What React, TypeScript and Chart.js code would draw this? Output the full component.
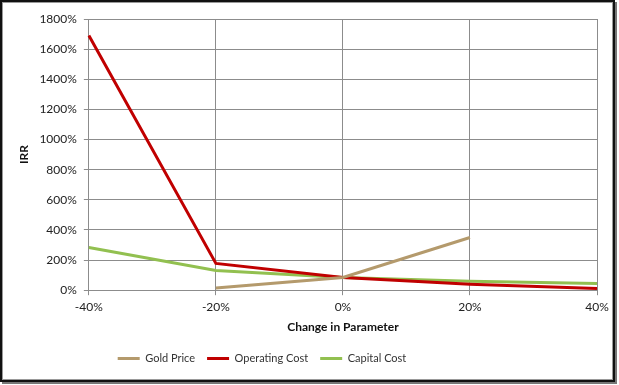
import React, { useEffect, useRef } from "react";
import { Chart, registerables } from "chart.js";

Chart.register(...registerables);

const categories = ["-40%", "-20%", "0%", "20%", "40%"];
const goldPrice = [null, 15, 84, 350, null];
const operatingCost = [1690, 178, 84, 40, 11];
const capitalCost = [283, 131, 84, 60, 44];
const yTicks = [0, 200, 400, 600, 800, 1000, 1200, 1400, 1600, 1800];

const FONT = "Lato, 'Liberation Sans', Arial, sans-serif";

const legendShift = {
  id: "legendShift",
  afterLayout(chart: any) {
    const lg = chart.legend;
    if (lg) {
      lg.left -= 45;
      lg.right -= 45;
    }
  },
};

export default function App() {
  const ref = useRef<HTMLCanvasElement | null>(null);
  useEffect(() => {
    if (!ref.current) return;
    const chart = new Chart(ref.current, {
      type: "line",
      data: {
        labels: categories,
        datasets: [
          { label: "Gold Price", data: goldPrice, borderColor: "#B49A6C", backgroundColor: "#B49A6C", borderWidth: 3, pointRadius: 0, spanGaps: false },
          { label: "Operating Cost", data: operatingCost, borderColor: "#C00000", backgroundColor: "#C00000", borderWidth: 3, pointRadius: 0 },
          { label: "Capital Cost", data: capitalCost, borderColor: "#92C050", backgroundColor: "#92C050", borderWidth: 3, pointRadius: 0 },
        ],
      },
      plugins: [legendShift],
      options: {
        animation: false,
        responsive: false,
        maintainAspectRatio: false,
        layout: { padding: { left: 14, right: 18, top: 16, bottom: 9 } },
        plugins: {
          tooltip: { enabled: false },
          legend: {
            position: "bottom",
            labels: {
              usePointStyle: true,
              pointStyle: "line",
              pointStyleWidth: 22,
              color: "#333",
              font: { family: FONT, size: 11 },
              padding: 12,
            },
          },
        },
        scales: {
          x: {
            type: "category",
            offset: false,
            grid: { color: "#8c8c8c", lineWidth: 1, tickLength: 5, drawTicks: true },
            border: { color: "#8c8c8c" },
            ticks: { color: "#222", font: { family: FONT, size: 12 }, padding: 5, maxRotation: 0 },
            title: { display: true, text: "Change in Parameter", color: "#111", font: { family: FONT, size: 12, weight: "bold" }, padding: { top: 0, bottom: 7 } },
          },
          y: {
            min: 0,
            max: 1800,
            afterBuildTicks: (scale: any) => {
              scale.ticks = yTicks.map((v) => ({ value: v }));
            },
            grid: { color: "#8c8c8c", lineWidth: 1, tickLength: 5 },
            border: { color: "#8c8c8c" },
            ticks: { color: "#222", font: { family: FONT, size: 12 }, padding: 7, callback: (v: any) => v + "%" },
            title: { display: true, text: "IRR", color: "#111", font: { family: FONT, size: 12, weight: "bold" }, padding: { top: 0, bottom: 1 } },
          },
        },
      },
    });
    return () => chart.destroy();
  }, []);
  return (
    <div style={{ position: "absolute", left: 0, top: 0, width: 619, height: 385, background: "#fff" }}>
      <canvas ref={ref} width={612} height={380} style={{ position: "absolute", left: 3, top: 3, width: 612, height: 380 }} />
      <div
        style={{
          position: "absolute",
          left: 0,
          top: 0,
          width: 615,
          height: 382,
          boxSizing: "border-box",
          border: "2px solid #111",
          boxShadow: "inset 0 0 0 1px #999, 2px 2px 0 #777",
          pointerEvents: "none",
        }}
      />
    </div>
  );
}
